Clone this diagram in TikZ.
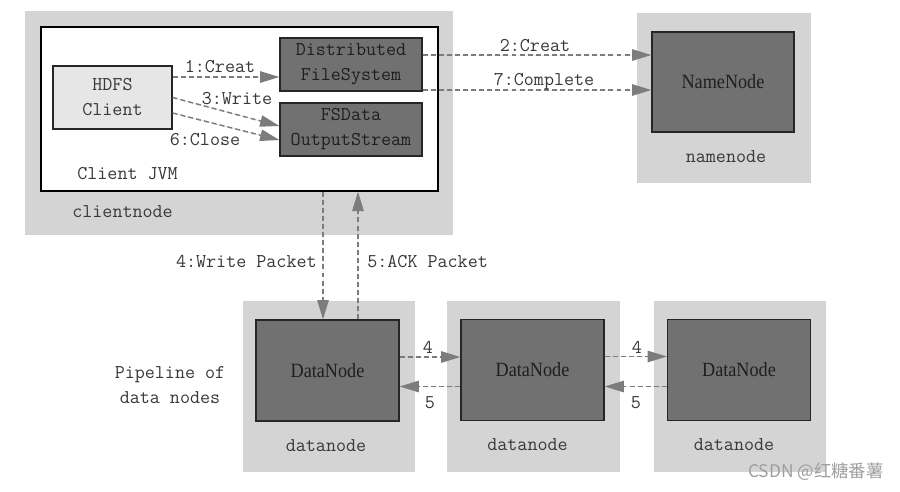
\documentclass[tikz,border=0pt]{standalone}
\usepackage{fontspec}
\setmainfont{Liberation Serif}
\newfontfamily\boxfont[FakeStretch=0.9]{Liberation Serif}
\newfontfamily\markfont{Noto Sans CJK SC}
\newcommand{\labelfont}{\ttfamily}
\usetikzlibrary{arrows.meta, positioning, calc}
\definecolor{hostgray}{HTML}{D4D4D4}
\definecolor{procgray}{HTML}{717171}
\definecolor{clientgray}{HTML}{E6E6E6}
\definecolor{linkgray}{HTML}{7C7C7C}
\definecolor{inkgray}{HTML}{383838}
\tikzset{
  host/.style={rectangle, fill=hostgray, inner sep=0pt},
  proc/.style={
    rectangle, draw=black!85, line width=0.7pt, fill=procgray, inner sep=0pt,
    align=center, text=black!88, font=\boxfont\fontsize{11.5}{13}\selectfont
  },
  jvmbox/.style={rectangle, draw=black, line width=0.8pt, fill=white, inner sep=0pt},
  clientbox/.style={proc, fill=clientgray, font=\labelfont\fontsize{11.1}{14.2}\selectfont, text=inkgray},
  streambox/.style={proc, minimum width=2.84cm, minimum height=1.06cm,
    font=\labelfont\fontsize{11.1}{14.2}\selectfont},
  lbl/.style={inner sep=0pt, text=inkgray, font=\labelfont\fontsize{11.1}{14.2}\selectfont},
  link/.style={
    draw=linkgray, line width=0.85pt, dash pattern=on 2.8pt off 1.8pt,
    -{Triangle[length=11pt, width=6.5pt]}, fill=linkgray
  }
}

\begin{document}
\begin{tikzpicture}[x=0.02cm, y=-0.02cm,
    dnhost/.style={host, minimum width=3.46cm, minimum height=3.42cm},
    dnproc/.style={proc, minimum width=2.86cm, minimum height=2.02cm}
    ]
    \useasboundingbox (0,0) rectangle (900,491);
    
    % Client node
    \node[host, minimum width=8.56cm, minimum height=4.48cm] (client) at (239,123) {};
    \node[jvmbox, minimum width=7.94cm, minimum height=3.28cm] (jvm) at (239.5,109) {};
    \node[clientbox, minimum width=2.38cm, minimum height=1.26cm] (hdfs) at (112.5,97.5) {HDFS\\Client};
    \node[streambox] (dfs) at (351,64.5) {Distributed\\FileSystem};
    \node[streambox] (fsout) at (351,129.5) {FSData\\OutputStream};
    \node[lbl, anchor=base west] (jvmtext) at (77,179) {Client JVM};
    \node[lbl, anchor=base west] (clienttext) at (72,217) {clientnode};
    
    % Name node
    \node[host, minimum width=3.48cm, minimum height=3.40cm] (nnhost) at (724,98) {};
    \node[proc, minimum width=2.84cm, minimum height=2.00cm] (nn) at (723,82) {NameNode};
    \node[lbl, anchor=base] (nntext) at (726,162) {namenode};
    
    % Data nodes
    \node[dnhost] (dnhost1) at (329,386.5) {};
    \node[dnhost] (dnhost2) at (533.5,386.5) {};
    \node[dnhost] (dnhost3) at (740,386.5) {};
    \node[dnproc] (dn1) at (327.5,370.5) {DataNode};
    \node[dnproc] (dn2) at (532.5,370) {DataNode};
    \node[dnproc] (dn3) at (739,370) {DataNode};
    \node[lbl, anchor=base] (dntext1) at (326,451) {datanode};
    \node[lbl, anchor=base] (dntext2) at (527.5,450) {datanode};
    \node[lbl, anchor=base] (dntext3) at (734,450) {datanode};
    \node[lbl, align=center] (pipe) at (170,385) {Pipeline of\\data nodes};
    
    % Inside the client JVM
    \draw[link] ([yshift=4.1mm]hdfs.east) -- ([yshift=4.1mm]hdfs.east -| dfs.west);
    \draw[link] (hdfs.east) -- ([yshift=0.7mm]fsout.west);
    \draw[link] ([yshift=-3.1mm]hdfs.east) -- ([yshift=-2.1mm]fsout.west);
    \node[lbl, anchor=base] (l1) at (220,72) {1:Creat};
    \node[lbl, anchor=base] (l3) at (237,104) {3:Write};
    \node[lbl, anchor=base] (l6) at (205,145) {6:Close};
    
    % To the name node
    \draw[link] ([yshift=1.9mm]dfs.east) -- ([yshift=1.9mm]dfs.east -| nn.west);
    \draw[link] ([yshift=-5.1mm]dfs.east) -- ([yshift=-5.1mm]dfs.east -| nn.west);
    \node[lbl, anchor=base] (l2) at (535,51.5) {2:Creat};
    \node[lbl, anchor=base] (l7) at (544,85) {7:Complete};
    
    % Packets
    \draw[link] ([xshift=-0.9mm]dn1.north |- jvm.south) -- ([xshift=-0.9mm]dn1.north);
    \draw[link] ([xshift=6.1mm]dn1.north) -- ([xshift=6.1mm]dn1.north |- jvm.south);
    \node[lbl, anchor=base east] (l4) at (317,267) {4:Write Packet};
    \node[lbl, anchor=base west] (l5) at (367,267) {5:ACK Packet};
    
    % Pipeline
    \draw[link] ([yshift=2.7mm]dn1.east) -- ([yshift=2.7mm]dn1.east -| dn2.west);
    \draw[link] ([yshift=-3.3mm]dn2.west) -- ([yshift=-3.3mm]dn2.west -| dn1.east);
    \draw[link] ([yshift=2.7mm]dn2.east) -- ([yshift=2.7mm]dn2.east -| dn3.west);
    \draw[link] ([yshift=-3.3mm]dn3.west) -- ([yshift=-3.3mm]dn3.west -| dn2.east);
    \node[lbl, anchor=base] (p4a) at (428,353) {4};
    \node[lbl, anchor=base] (p5a) at (430,408) {5};
    \node[lbl, anchor=base] (p4b) at (637,353) {4};
    \node[lbl, anchor=base] (p5b) at (636,408) {5};
    
    \node[anchor=east, inner sep=0pt, text=black!38, font=\markfont\fontsize{9.9}{12}\selectfont] (mark) at (884,472) {CSDN @红糖番薯};
    
\end{tikzpicture}
\end{document}
